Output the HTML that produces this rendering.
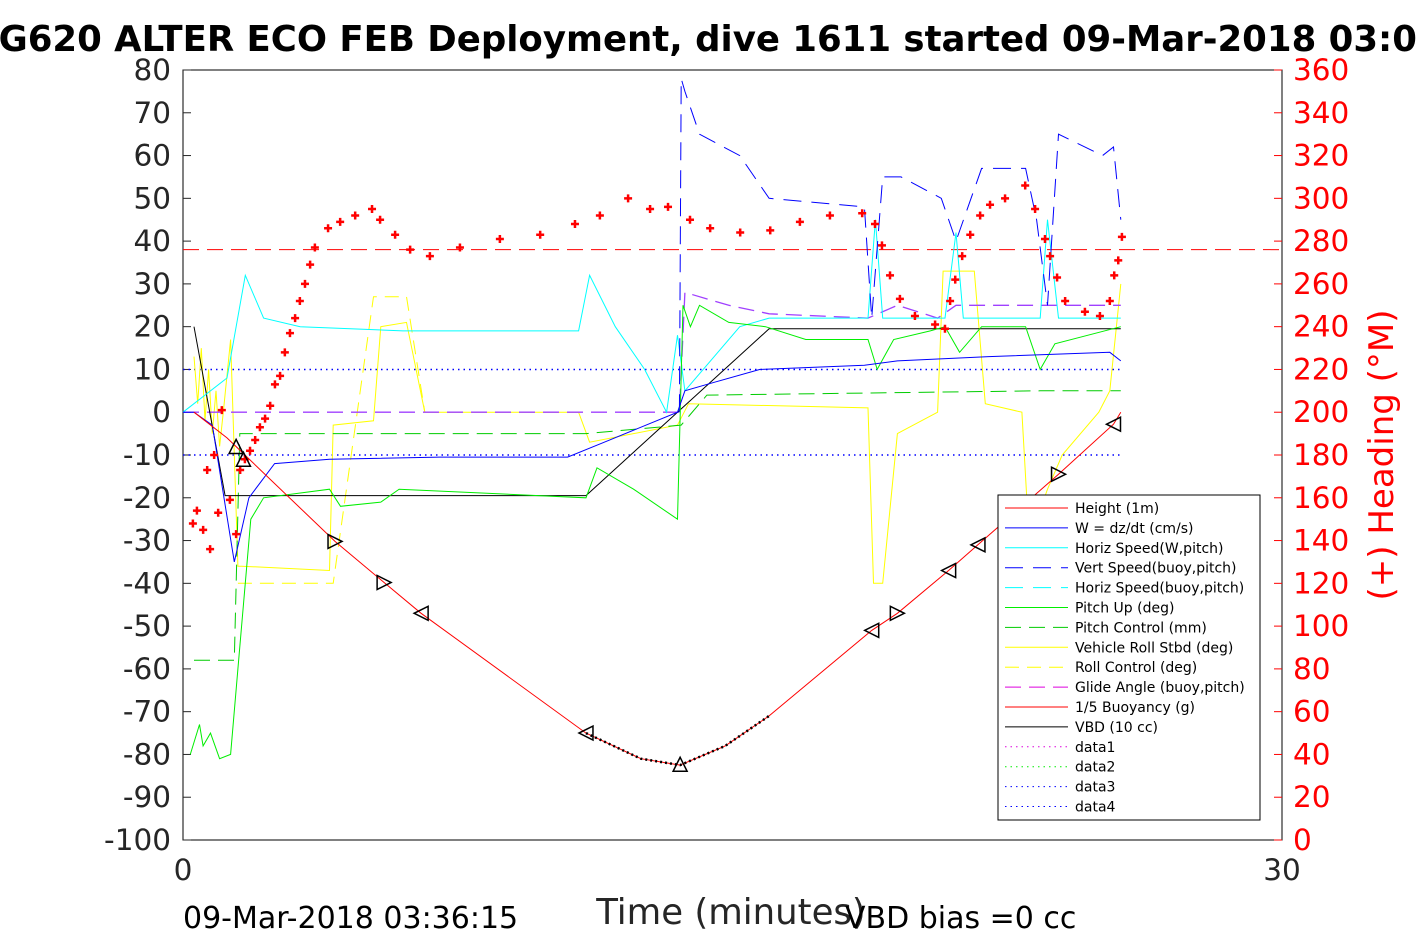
<!DOCTYPE html>
<html><head><meta charset="utf-8">
<style>
html,body{margin:0;padding:0;background:#fff;}
svg{display:block;font-family:"DejaVu Sans","Liberation Sans",sans-serif;}
</style></head>
<body>
<svg id="chart" width="1417" height="945" viewBox="0 0 1417 945" xmlns="http://www.w3.org/2000/svg">
<rect width="1417" height="945" fill="#fff"/>
<text x="-27" y="51" font-size="35.5" font-weight="bold" fill="#000">SG620 ALTER ECO FEB Deployment, dive 1611 started 09-Mar-2018 03:03</text>
<rect x="183" y="70" width="1099" height="770" fill="#fff" stroke="#000" stroke-width="1"/>
<g id="axes"></g>
<g id="series"></g>
<g id="legend"></g>
<text x="731" y="924" font-size="35.5" text-anchor="middle" fill="#262626">Time (minutes)</text>
<text x="183" y="928" font-size="30" fill="#000">09-Mar-2018 03:36:15</text>
<text x="845" y="928" font-size="30" fill="#000">VBD bias =0 cc</text>
<text transform="translate(1393,455) rotate(-90)" font-size="34" text-anchor="middle" fill="#f00">(+) Heading (°M)</text>
</svg>
<script>
const leftTicks=[80,70,60,50,40,30,20,10,0,-10,-20,-30,-40,-50,-60,-70,-80,-90,-100];
const rightTicks=[360,340,320,300,280,260,240,220,200,180,160,140,120,100,80,60,40,20,0];
const xTicks=[0,30];
const heightT=[0.3,1.2,4.15,5.49,6.5,11,12.5,13.57,14.8,16,18.8,19.5,20.9,21.7,23.9,25.4,25.6];
const heightV=[0,-6,-30.2,-39.8,-47,-75,-81,-82.5,-78,-71,-51,-47,-37,-31,-14.5,-2.8,0];
const wT=[0,0.3,0.8,1.4,1.8,2.5,4,7,10.5,11.5,13.5,13.7,14.5,15.75,18.6,19.5,22,25.3,25.6];
const wV=[0,0,-3,-35,-20,-12,-11,-10.5,-10.5,-7,0,5,7,10,11,12,13,14,12];
const hsT=[0,1.2,1.7,2.2,3.2,6,10.8,11.1,11.8,12.6,13.2,13.5,13.7,14.2,15.2,16,18.7,18.9,19.1,19.5,20.8,21.1,21.3,23.4,23.6,23.9,25.6];
const hsV=[0,8,32,22,20,19,19,32,20,10,0,18,5,10,20,22,22,45,22,22,22,42,22,22,45,22,22];
const vsT=[13.55,13.6,13.7,14.1,15.2,16,18.6,18.8,19.1,19.6,20.7,21.1,21.8,23,23.3,23.6,23.9,25.1,25.4,25.6];
const vsV=[0,78,75,65,60,50,48,22,55,55,50,40,57,57,45,25,65,60,62,45];
const pitchT=[0.2,0.45,0.55,0.75,1.0,1.3,1.5,1.85,2.2,4.0,4.3,5.4,5.9,11,11.3,12.3,13.5,13.65,13.85,14.1,14.9,15.9,17,18.7,18.95,19.4,20.4,20.8,21.2,21.8,23,23.4,23.8,25.6];
const pitchV=[-80,-73,-78,-75,-81,-80,-60,-25,-20,-18,-22,-21,-18,-20,-13,-18,-25,25,20,25,21,20,17,17,10,17,19,20,14,20,20,10,16,20];
const pcT=[0.3,1.4,1.55,11,13.6,14.3,23.4,25.6];
const pcV=[-58,-58,-5,-5,-3,4,5,5];
const rollT=[0.3,0.4,0.5,0.6,0.7,0.8,0.9,1.0,1.1,1.3,1.5,1.6,4.0,4.1,5.2,5.4,6.1,6.6,10.8,11.1,13.5,13.8,18.7,18.85,19.1,19.5,20.6,20.75,21.6,21.9,22.9,23.1,23.6,24.0,25.0,25.3,25.6];
const rollV=[13,2,15,-2,10,-5,5,-8,0,17,-36,-36,-37,-3,-2,20,21,0,0,-7,-3,2,1,-40,-40,-5,0,33,33,2,0,-30,-18,-10,0,5,30];
const gaT=[0,13.55,13.7,14.9,16,18.7,19.5,20.6,21.1,25.6];
const gaV=[0,0,28,25,23,22,25,22,25,25];
const vbdT=[0.3,1.15,11,16,25.6];
const vbdV=[20,-19.5,-19.5,19.5,19.5];
const buoyLevel=[38];
const dataLevels=[10,-10];
const headT=[0.27,0.38,0.55,0.66,0.74,0.85,0.96,1.06,1.28,1.45,1.56,1.69,1.83,1.97,2.1,2.24,2.38,2.51,2.65,2.78,2.92,3.06,3.19,3.33,3.47,3.6,3.96,4.29,4.7,5.16,5.38,5.79,6.2,6.74,7.56,8.65,9.75,10.7,11.38,12.15,12.75,13.24,13.84,14.39,15.21,16.03,16.84,17.66,18.54,18.89,19.08,19.3,19.57,19.98,20.53,20.8,20.94,21.08,21.27,21.49,21.76,22.03,22.44,22.99,23.26,23.53,23.67,23.86,24.08,24.62,25.03,25.3,25.42,25.53,25.63];
const headV=[148,154,145,173,136,180,153,201,159,143,173,178,182,187,193,197,203,213,217,228,237,244,252,260,269,277,286,289,292,295,290,283,276,273,277,281,283,288,292,300,295,296,290,286,284,285,289,292,293,288,278,264,253,245,241,239,252,262,273,283,292,297,300,306,295,281,273,263,252,247,245,252,264,271,282];
const markerT=[1.45,1.65,4.15,5.49,6.5,11,13.57,18.8,19.5,20.9,21.7,23.9,25.4];
const markerV=[-8,-11,-30.2,-39.8,-47,-75,-82.3,-51,-47,-37,-31,-14.5,-2.8];
const markerDir=['up','up','right','right','left','left','up','left','right','left','left','right','left'];

const NS='http://www.w3.org/2000/svg';
const X0=183,X1=1282,Y0=70,Y1=840;
const xs=t=>X0+(t/30)*(X1-X0);
const yl=v=>Y1-(v+100)/180*(Y1-Y0);
const yr=h=>Y1-h/360*(Y1-Y0);
function mk(tag,attrs,parent){const e=document.createElementNS(NS,tag);for(const k in attrs)e.setAttribute(k,attrs[k]);parent.appendChild(e);return e;}
const axes=document.getElementById('axes'),ser=document.getElementById('series'),leg=document.getElementById('legend');

leftTicks.forEach(v=>{
  mk('line',{x1:X0,x2:X0+8,y1:yl(v),y2:yl(v),stroke:'#262626'},axes);
  const t=mk('text',{x:171,y:yl(v)+10,'font-size':29.5,'text-anchor':'end',fill:'#262626'},axes);
  t.textContent=v;
  
  
});
rightTicks.forEach(h=>{
  mk('line',{x1:X1-8,x2:X1,y1:yr(h),y2:yr(h),stroke:'#f00'},axes);
  const t=mk('text',{x:1293,y:yr(h)+10,'font-size':29.5,fill:'#f00'},axes);
  t.textContent=h;
  
  
});
xTicks.forEach(v=>{
  const t=mk('text',{x:xs(v),y:880,'font-size':29.5,'text-anchor':'middle',fill:'#262626'},axes);
  t.textContent=v;
  
  
});

function line(T,V,color,dash,name,w){
  const d=T.map((t,i)=>(i?'L':'M')+xs(t).toFixed(1)+','+yl(V[i]).toFixed(1)).join(' ');
  const p=mk('path',{d:d,fill:'none',stroke:color,'stroke-width':w||1,'stroke-dasharray':dash||'none'},ser);
  
  
}
buoyLevel.forEach(v=>{const p=mk('line',{x1:X0,x2:X1,y1:yl(v),y2:yl(v),stroke:'#f00','stroke-dasharray':'16,8'},ser);

});
dataLevels.forEach(v=>{const p=mk('line',{x1:X0,x2:xs(25.6),y1:yl(v),y2:yl(v),stroke:'#00f','stroke-width':1.5,'stroke-dasharray':'1.5,4'},ser);

});
line(rollT,rollV,'#ff0',null,'vehicle-roll-line');
line(rollT.slice(10,18),[-40,-40,-40,-40,27,27,27,0],'#ff0','14,8','roll-control-line');
line(pcT,pcV,'#0c0','16,8','pitch-control-line');
line(gaT,gaV,'#a040ff','16,8','glide-angle-line',1.3);
line(vbdT,vbdV,'#000',null,'vbd-line');
line(hsT,hsV,'#0ff',null,'horiz-speed-line');
line(vsT,vsV,'#00f','18,10','vert-speed-line');
line(pitchT,pitchV,'#0e0',null,'pitch-up-line');
line(wT,wV,'#00f',null,'w-line');
line(heightT,heightV,'#f00',null,'height-line');
line(heightT.slice(5,10),heightV.slice(5,10),'#000','2,3','bottom-dotted-line',2.5);
headT.forEach((t,i)=>{
  const x=xs(t),y=yr(headV[i]);
  const p=mk('path',{d:`M${x-4},${y}H${x+4}M${x},${y-4}V${y+4}`,stroke:'#f00','stroke-width':2.5},ser);
  
  
});
markerT.forEach((t,i)=>{
  const x=xs(t),y=yl(markerV[i]),s=7,dir=markerDir[i];
  let pts;
  if(dir==='up')pts=`${x-s},${y+s} ${x+s},${y+s} ${x},${y-s}`;
  else if(dir==='right')pts=`${x-s},${y-s} ${x-s},${y+s} ${x+s},${y}`;
  else pts=`${x+s},${y-s} ${x+s},${y+s} ${x-s},${y}`;
  const p=mk('polygon',{points:pts,fill:'none',stroke:'#000','stroke-width':1.5},ser);
  
  
});

const legNames=['Height (1m)','W = dz/dt (cm/s)','Horiz Speed(W,pitch)','Vert Speed(buoy,pitch)','Horiz Speed(buoy,pitch)','Pitch Up (deg)','Pitch Control (mm)','Vehicle Roll Stbd (deg)','Roll Control (deg)','Glide Angle (buoy,pitch)','1/5 Buoyancy (g)','VBD (10 cc)','data1','data2','data3','data4'];
const legColors=['#f00','#00f','#0ff','#00f','#0ff','#0e0','#0c0','#ff0','#ff0','#d0d','#f00','#000','#d0d','#0e0','#00f','#00f'];
const legDash=['none','none','none','18,10','18,10','none','16,8','none','14,8','16,8','none','none','1.5,4','1.5,4','1.5,4','1.5,4'];
const box=mk('rect',{x:998,y:495,width:262,height:325,fill:'#fff',stroke:'#000'},leg);


legNames.forEach((n,i)=>{
  const y=508+i*19.9;
  const g=mk('g',{},leg);
  
  
  mk('line',{x1:1005,x2:1068,y1:y,y2:y,stroke:legColors[i],'stroke-dasharray':legDash[i]},g);
  const t=mk('text',{x:1075,y:y+5,'font-size':14,fill:'#000'},g);
  t.textContent=n;
});
</script>
</body></html>
